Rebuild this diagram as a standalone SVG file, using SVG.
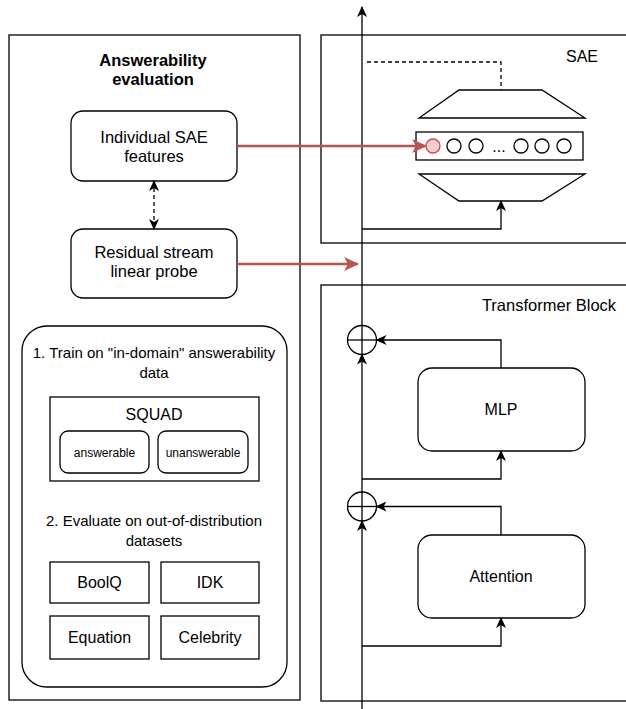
<svg xmlns="http://www.w3.org/2000/svg" width="626" height="709" viewBox="0 0 626 709">
<defs>
<marker id="ah" markerUnits="userSpaceOnUse" markerWidth="12" markerHeight="10" refX="10" refY="5" orient="auto-start-reverse" viewBox="0 0 12 10">
<path d="M0,0 L11,5 L0,10 L3,5 Z" fill="#000"/>
</marker>
<marker id="ahr" markerUnits="userSpaceOnUse" markerWidth="16" markerHeight="14" refX="14" refY="7" orient="auto" viewBox="0 0 16 14">
<path d="M0,0 L15,7 L0,14 L4,7 Z" fill="#b85450"/>
</marker>
<style>
.b{fill:#fff;stroke:#000;stroke-width:1.3}
.n{fill:none;stroke:#000;stroke-width:1.3}
.t{font-family:"Liberation Sans",Arial,sans-serif;font-size:16px;fill:#000;text-anchor:middle}
.m{font-size:16.5px}
.s{font-size:15px}
.xs{font-size:12px}
.bold{font-weight:bold;font-size:16.5px}
.red{fill:none;stroke:#b85450;stroke-width:2.5}
</style>
</defs>
<g id="left-panel">
<rect class="b" x="9" y="35" width="291" height="665"/>
<text class="t bold" x="153" y="66">Answerability</text>
<text class="t bold" x="153" y="85">evaluation</text>
</g>
<g id="sae-features">
<rect class="b" x="71" y="111" width="166" height="70" rx="12"/>
<text class="t m" x="154" y="143">Individual SAE</text>
<text class="t m" x="154" y="162">features</text>
</g>
<g id="linear-probe">
<rect class="b" x="71" y="229" width="166" height="69" rx="12"/>
<text class="t m" x="154" y="258">Residual stream</text>
<text class="t m" x="154" y="277">linear probe</text>
</g>
<g id="procedure">
<rect class="b" x="22" y="326" width="265" height="361" rx="25"/>
<text class="t s" x="154" y="358">1. Train on "in-domain" answerability</text>
<text class="t s" x="154" y="378">data</text>
<text class="t s" x="154" y="526">2. Evaluate on out-of-distribution</text>
<text class="t s" x="154" y="546">datasets</text>
</g>
<g id="squad">
<rect class="b" x="50" y="397" width="209" height="84"/>
<text class="t" x="154" y="420">SQUAD</text>
</g>
<g id="answerable">
<rect class="b" x="60" y="431" width="89" height="42" rx="8"/>
<text class="t xs" x="104.5" y="457">answerable</text>
</g>
<g id="unanswerable">
<rect class="b" x="158" y="431" width="90" height="42" rx="8"/>
<text class="t xs" x="203" y="457">unanswerable</text>
</g>
<g id="boolq">
<rect class="b" x="50" y="562" width="99" height="41"/>
<text class="t" x="99.5" y="588">BoolQ</text>
</g>
<g id="idk">
<rect class="b" x="161" y="562" width="98" height="41"/>
<text class="t" x="210" y="588">IDK</text>
</g>
<g id="equation">
<rect class="b" x="50" y="616" width="99" height="43"/>
<text class="t" x="99.5" y="643">Equation</text>
</g>
<g id="celebrity">
<rect class="b" x="161" y="616" width="98" height="43"/>
<text class="t" x="210" y="643">Celebrity</text>
</g>
<g id="sae-panel">
<rect class="b" x="321" y="35" width="320" height="208"/>
<text class="t" x="582" y="62">SAE</text>
<path class="b" d="M459,90 L542,90 L585,118 L419,118 Z"/>
<rect class="b" x="416" y="132" width="167" height="28"/>
<circle cx="433" cy="146" r="7" fill="#f8cecc" stroke="#b85450" stroke-width="1.3"/>
<circle class="b" cx="454" cy="146" r="7"/>
<circle class="b" cx="476" cy="146" r="7"/>
<text class="t" x="499" y="152">...</text>
<circle class="b" cx="521" cy="146" r="7"/>
<circle class="b" cx="542" cy="146" r="7"/>
<circle class="b" cx="564" cy="146" r="7"/>
<path class="b" d="M419,174 L585,174 L542,201 L459,201 Z"/>
</g>
<g id="transformer-block">
<rect class="b" x="321" y="285" width="320" height="416"/>
<text class="t m" x="549" y="311">Transformer Block</text>
</g>
<g id="mlp">
<rect class="b" x="418" y="368" width="167" height="83" rx="14"/>
<text class="t" x="501" y="415">MLP</text>
</g>
<g id="attention">
<rect class="b" x="418" y="535" width="167" height="83" rx="14"/>
<text class="t" x="501" y="582">Attention</text>
</g>
<g id="add1">
<circle class="b" cx="362" cy="340" r="14.5"/>
<line class="n" x1="347.5" y1="340" x2="376.5" y2="340"/>
</g>
<g id="add2">
<circle class="b" cx="362" cy="506.5" r="14.5"/>
<line class="n" x1="347.5" y1="506.5" x2="376.5" y2="506.5"/>
</g>
<g id="connectors">
<line class="n" x1="362" y1="709" x2="362" y2="521" marker-end="url(#ah)"/>
<line class="n" x1="362" y1="521" x2="362" y2="492"/>
<line class="n" x1="362" y1="492" x2="362" y2="354.5" marker-end="url(#ah)"/>
<line class="n" x1="362" y1="354.5" x2="362" y2="325.5"/>
<line class="n" x1="362" y1="325.5" x2="362" y2="7" marker-end="url(#ah)"/>
<path class="n" d="M362,646 L501,646 L501,618" marker-end="url(#ah)"/>
<path class="n" d="M501,535 L501,506.5 L376.5,506.5" marker-end="url(#ah)"/>
<path class="n" d="M362,479 L501,479 L501,451" marker-end="url(#ah)"/>
<path class="n" d="M501,368 L501,340 L376.5,340" marker-end="url(#ah)"/>
<path class="n" d="M362,229 L501,229 L501,201" marker-end="url(#ah)"/>
<path class="n" d="M367,62 L501,62 L501,90" stroke-dasharray="4 3"/>
<line class="n" x1="154" y1="181" x2="154" y2="229" stroke-dasharray="4 3" marker-start="url(#ah)" marker-end="url(#ah)"/>
<line class="red" x1="237" y1="146" x2="426" y2="146" marker-end="url(#ahr)"/>
<line class="red" x1="237" y1="264" x2="358" y2="264" marker-end="url(#ahr)"/>
</g>
</svg>
